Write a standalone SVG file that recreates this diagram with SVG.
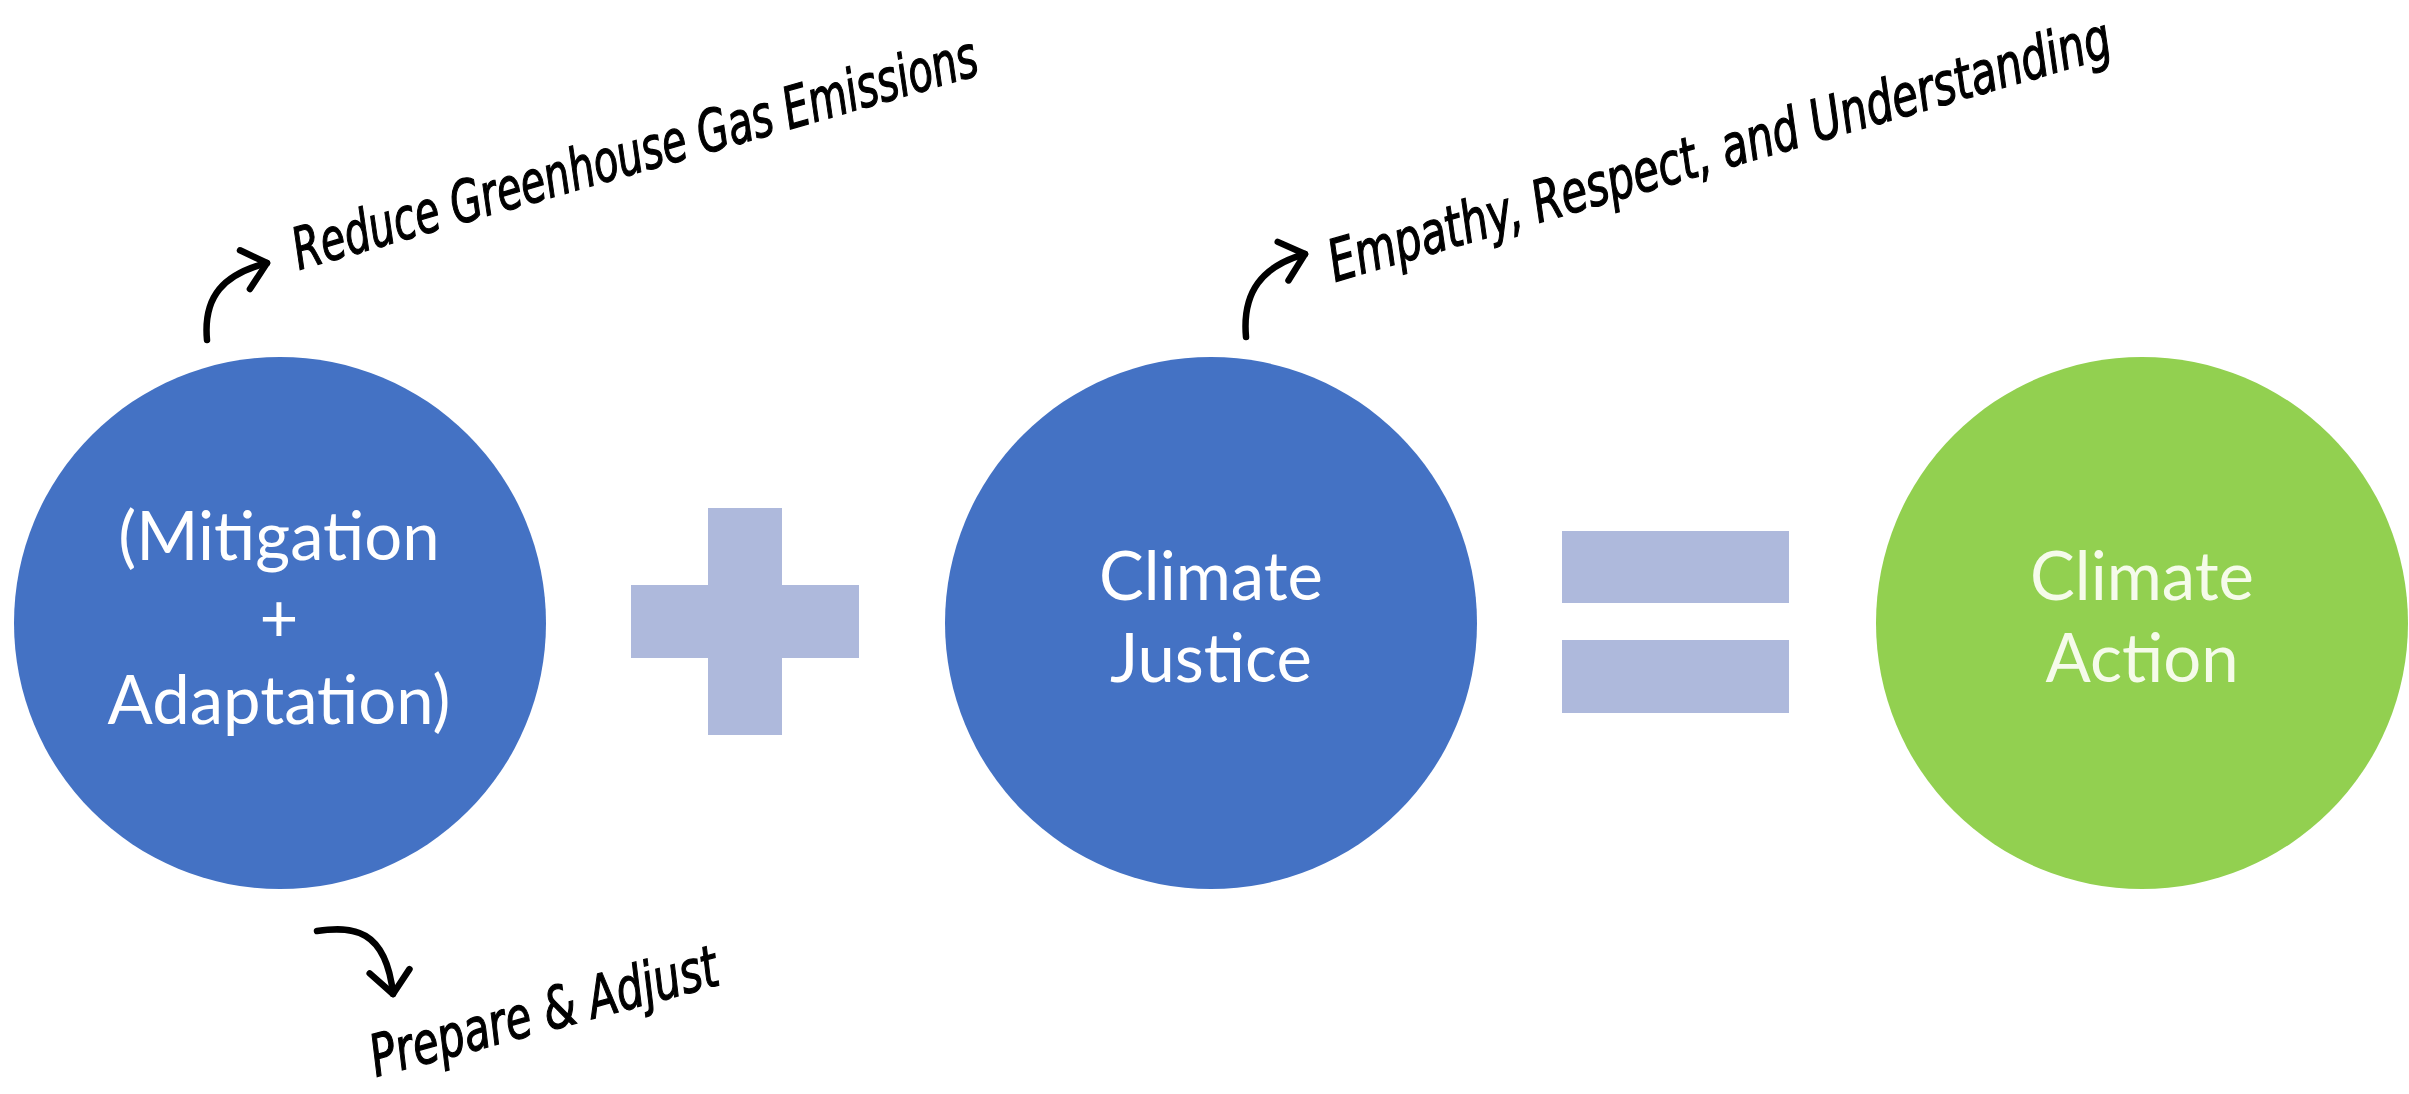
<svg xmlns="http://www.w3.org/2000/svg" width="2409" height="1094" viewBox="0 0 2409 1094">
<style>
  .blue { fill: #4472C4; }
  .green { fill: #92D050; }
  .op { fill: #AEB9DC; }
  .lbl { font-family: Lato, "Open Sans", "Liberation Sans", sans-serif; font-size: 67px; text-anchor: middle; fill: #FFFFFF; }
  .lbl-g { fill: #F5FBEA; }
  .hand { font-family: "DejaVu Sans Condensed", "DejaVu Sans", sans-serif; font-stretch: condensed; font-style: oblique; font-size: 58px; fill: #000000; stroke: #000000; stroke-width: 1.2; }
  .arrow { fill: none; stroke: #000000; stroke-width: 6.5; stroke-linecap: round; stroke-linejoin: round; }
</style>
<defs>
  <marker id="chev" markerUnits="userSpaceOnUse" markerWidth="60" markerHeight="60" refX="30" refY="30" orient="auto" viewBox="0 0 60 60">
    <path d="M7,11 L30,30 L7,51" fill="none" stroke="#000000" stroke-width="6.5" stroke-linecap="round" stroke-linejoin="round"/>
  </marker>
</defs>
<rect x="0" y="0" width="2409" height="1094" fill="#FFFFFF"/>

<g id="node-mitigation-adaptation">
  <circle class="blue" cx="280" cy="623" r="266"/>
  <text class="lbl" x="279" y="560">(Mitigation</text>
  <text class="lbl" x="279" y="642">+</text>
  <text class="lbl" x="279" y="724">Adaptation)</text>
</g>

<g id="op-plus">
  <rect class="op" x="708" y="508" width="74" height="227"/>
  <rect class="op" x="631" y="585" width="228" height="73"/>
</g>

<g id="node-climate-justice">
  <circle class="blue" cx="1211" cy="623" r="266"/>
  <text class="lbl" x="1211" y="600">Climate</text>
  <text class="lbl" x="1211" y="682">Justice</text>
</g>

<g id="op-equals">
  <rect class="op" x="1562" y="531" width="227" height="72"/>
  <rect class="op" x="1562" y="640" width="227" height="73"/>
</g>

<g id="node-climate-action">
  <circle class="green" cx="2142" cy="623" r="266"/>
  <text class="lbl lbl-g" x="2142" y="600">Climate</text>
  <text class="lbl lbl-g" x="2142" y="682">Action</text>
</g>

<g id="annotations">
  <text class="hand" x="299" y="270" transform="rotate(-16 299 270)" textLength="710" lengthAdjust="spacingAndGlyphs">Reduce Greenhouse Gas Emissions</text>
  <text class="hand" x="1335" y="282" transform="rotate(-16.2 1335 282)" textLength="812" lengthAdjust="spacingAndGlyphs">Empathy, Respect, and Understanding</text>
  <text class="hand" x="376" y="1077" transform="rotate(-15 376 1077)" textLength="358" lengthAdjust="spacingAndGlyphs">Prepare &amp; Adjust</text>
</g>

<g id="connectors">
  <path class="arrow" d="M207,340 C203,296 224,274 267,263" marker-end="url(#chev)"/>
  <path class="arrow" d="M1246,337 C1242,292 1262,266 1305,254" marker-end="url(#chev)"/>
  <path class="arrow" d="M317,931 C352,926 386,928 393,994" marker-end="url(#chev)"/>
</g>
</svg>
